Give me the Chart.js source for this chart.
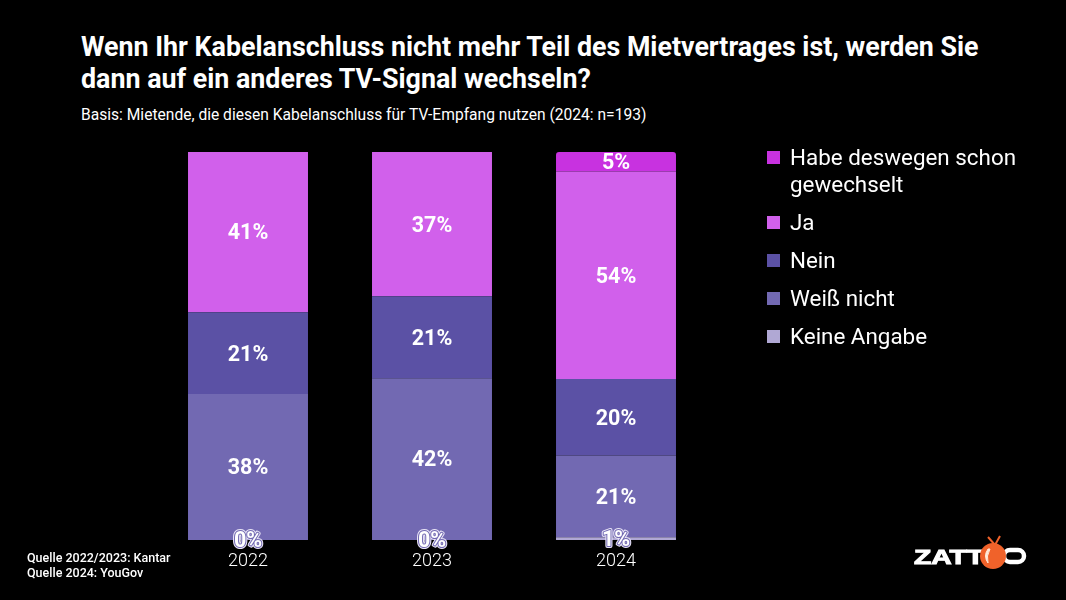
<!DOCTYPE html>
<html lang="de">
<head>
<meta charset="utf-8">
<title>Kabelanschluss</title>
<script src="https://cdn.jsdelivr.net/npm/chart.js@4"></script>
<style>
  html, body { margin: 0; padding: 0; background: #000; }
  body { position: relative; width: 1066px; height: 600px; overflow: hidden; color: #fff; font-family: Roboto, sans-serif; }
  #chart { position: absolute; left: 0; top: 0; }
  .title { position: absolute; left: 81px; top: 31px; margin: 0; font-size: 26.8px; line-height: 32px; font-weight: 700; white-space: nowrap; }
  .subtitle { position: absolute; left: 81px; top: 106px; margin: 0; font-size: 15.6px; line-height: 18px; white-space: nowrap; }
  .source { position: absolute; left: 27px; top: 550px; font-size: 12.5px; line-height: 15px; font-weight: 500; white-space: nowrap; }
  .legend { position: absolute; left: 767px; top: 144px; margin: 0; padding: 0; list-style: none; font-size: 22.4px; line-height: 27px; }
  .legend li { position: relative; padding-left: 23px; margin-bottom: 11px; white-space: nowrap; }
  .legend span { position: absolute; left: 0; top: 7px; width: 13px; height: 13px; }
  .logo { position: absolute; left: 905px; top: 530px; }
</style>
</head>
<body>
<h1 class="title">Wenn Ihr Kabelanschluss nicht mehr Teil des Mietvertrages ist, werden Sie<br>dann auf ein anderes TV-Signal wechseln?</h1>
<p class="subtitle">Basis: Mietende, die diesen Kabelanschluss für TV-Empfang nutzen (2024: n=193)</p>
<canvas id="chart" width="1066" height="600"></canvas>
<ul class="legend"></ul>
<div class="source">Quelle 2022/2023: Kantar<br>Quelle 2024: YouGov</div>
<svg class="logo" width="130" height="45" viewBox="0 0 130 45">
  <text x="9" y="33.5" font-family="Liberation Sans" font-weight="700" font-size="20" fill="#fff" stroke="#fff" stroke-width="1" textLength="70" lengthAdjust="spacingAndGlyphs">ZATT</text>
  <path d="M83 7 L90 15 L95 6" fill="none" stroke="#f0622a" stroke-width="2"/>
  <rect x="99" y="20" width="20" height="12" rx="6" fill="none" stroke="#fff" stroke-width="4.5"/>
  <circle cx="88" cy="26" r="13" fill="#f0622a"/>
  <path d="M83 19 Q78 26 83 33 Q81 26 85 19 Z" fill="#ffe9d8" stroke="#ffe9d8" stroke-width="1"/>
</svg>
<script>
const years = ['2022', '2023', '2024'];

// von unten nach oben gestapelt
const keineAngabe = [0, 0, 0.7];
const weissNicht = [37.6, 41.7, 21.1];
const nein = [21.1, 21.1, 19.7];
const ja = [41.3, 37.2, 53.5];
const habeGewechselt = [null, null, 5];

const seriesNames = ['Keine Angabe', 'Weiß nicht', 'Nein', 'Ja', 'Habe deswegen schon<br>gewechselt'];
const seriesColors = ['#b0a8d4', '#7269b2', '#5b51a5', '#d160eb', '#c832e0'];
const seriesValues = [keineAngabe, weissNicht, nein, ja, habeGewechselt];

const legend = document.querySelector('.legend');
for (let i = seriesNames.length - 1; i >= 0; i--) {
  legend.innerHTML += `<li><span style="background:${seriesColors[i]}"></span>${seriesNames[i]}</li>`;
}

// Prozentwerte mittig in die Segmente schreiben
const valueLabels = {
  id: 'valueLabels',
  afterDatasetsDraw(chart) {
    const ctx = chart.ctx;
    ctx.save();
    ctx.font = '700 21.5px Roboto';
    ctx.textAlign = 'center';
    ctx.textBaseline = 'middle';
    ctx.lineJoin = 'round';
    chart.data.datasets.forEach((ds, i) => {
      chart.getDatasetMeta(i).data.forEach((bar, j) => {
        const value = ds.data[j];
        if (value === null) return;
        const y = (bar.y + bar.base) / 2 + 2;
        const text = Math.round(value) + '%';
        if (i === 0) {
          ctx.strokeStyle = '#e8e4f6';
          ctx.lineWidth = 4;
          ctx.strokeText(text, bar.x, y);
          ctx.strokeStyle = '#7269b2';
          ctx.lineWidth = 2;
          ctx.strokeText(text, bar.x, y);
        }
        ctx.fillStyle = '#ffffff';
        ctx.fillText(text, bar.x, y);
      });
    });
    ctx.restore();
  }
};

new Chart(document.getElementById('chart'), {
  type: 'bar',
  data: {
    labels: years,
    datasets: seriesValues.map((values, i) => ({
      label: seriesNames[i].replace('<br>', ' '),
      data: values,
      backgroundColor: seriesColors[i],
      categoryPercentage: 1,
      barPercentage: 0.652,
      borderRadius: i === 4 ? { topLeft: 3, topRight: 3 } : 0,
      borderSkipped: false
    }))
  },
  options: {
    responsive: false,
    animation: false,
    layout: { padding: { left: 156, right: 358, top: 152, bottom: 0 } },
    plugins: { legend: { display: false }, tooltip: { enabled: false } },
    scales: {
      x: {
        stacked: true,
        grid: { display: false },
        border: { display: false },
        afterFit: (scale) => { scale.height = 60; },
        ticks: { color: '#ffffff', font: { family: 'Roboto', size: 18, weight: 300 }, padding: 3, maxRotation: 0 }
      },
      y: { stacked: true, display: false, min: 0, max: 100 }
    }
  },
  plugins: [valueLabels]
});
</script>
</body>
</html>
